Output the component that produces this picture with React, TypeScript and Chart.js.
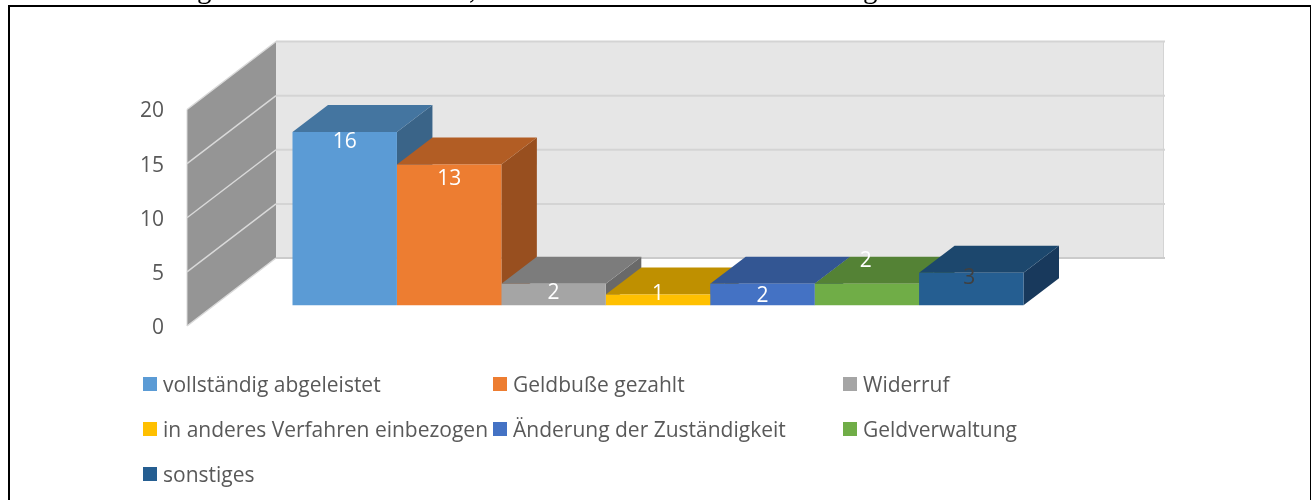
import React, { useEffect, useRef } from "react";
import { Chart, registerables } from "chart.js";

Chart.register(...registerables);

const categories = [""];
const seriesNames = [
  "vollständig abgeleistet",
  "Geldbuße gezahlt",
  "Widerruf",
  "in anderes Verfahren einbezogen",
  "Änderung der Zuständigkeit",
  "Geldverwaltung",
  "sonstiges",
];
const seriesValues = [16, 13, 2, 1, 2, 2, 3];
const frontColors = ["#5B9BD5", "#ED7D31", "#A5A5A5", "#FFC000", "#4472C4", "#70AD47", "#255E91"];
const topColors = ["#4475A0", "#B25D24", "#7C7C7C", "#BF9000", "#335693", "#548235", "#1C476D"];
const sideColors = ["#3A6488", "#984F1F", "#696969", "#A37B00", "#2C4A7D", "#47702D", "#18395C"];
const labelColors = ["#FFFFFF", "#FFFFFF", "#FFFFFF", "#FFFFFF", "#FFFFFF", "#FFFFFF", "#404040"];
const labelOffsets = [
  [0, 10],
  [0, 14],
  [0, 9],
  [0, 0],
  [0, 12],
  [-1, -23],
  [-2, 5],
];
const clippedHeadingGlyphs = ["g", ",", "g"];
const clippedHeadingX = [197, 469, 863];

const FONT = '"Open Sans", sans-serif';
const WALL_DX = 89;
const WALL_DY = -68;
const BAR_SHIFT_X = 27;
const BAR_SHIFT_Y = -20.7;
const BAR_DX = 35.5;
const BAR_DY = -27;
const TICK_TEXT_NUDGE = 2;

const poly = (ctx: CanvasRenderingContext2D, pts: number[][], fill: string) => {
  ctx.beginPath();
  pts.forEach(([x, y], i) => (i ? ctx.lineTo(x, y) : ctx.moveTo(x, y)));
  ctx.closePath();
  ctx.fillStyle = fill;
  ctx.fill();
};

const wallsPlugin = {
  id: "walls",
  beforeDraw(chart: any) {
    const y = chart.scales.y;
    if (!y._nudged) {
      const original = y.drawLabels.bind(y);
      y.drawLabels = (area: any) => {
        chart.ctx.save();
        chart.ctx.translate(0, TICK_TEXT_NUDGE);
        original(area);
        chart.ctx.restore();
      };
      y._nudged = true;
    }
  },
  beforeDatasetsDraw(chart: any) {
    const { ctx, chartArea: a, scales } = chart;
    const y = scales.y;
    const top = y.getPixelForValue(20);
    const bottom = y.getPixelForValue(0);
    ctx.save();
    // back wall
    ctx.fillStyle = "#E6E6E6";
    ctx.fillRect(a.left + WALL_DX, top + WALL_DY, a.right - a.left, bottom - top);
    ctx.fillStyle = "#D4D4D4";
    ctx.fillRect(a.right + WALL_DX - 1, top + WALL_DY, 1, bottom - top);
    // side wall
    poly(
      ctx,
      [
        [a.left, top],
        [a.left + WALL_DX, top + WALL_DY],
        [a.left + WALL_DX, bottom + WALL_DY],
        [a.left, bottom],
      ],
      "#959595"
    );
    // gridlines from the value axis
    y.ticks.forEach((t: any) => {
      const py = y.getPixelForValue(t.value);
      ctx.lineWidth = 2;
      ctx.strokeStyle = t.value === 0 ? "#CBCBCB" : "#D4D4D4";
      ctx.beginPath();
      ctx.moveTo(a.left + WALL_DX, py + WALL_DY);
      ctx.lineTo(a.right + WALL_DX + 1, py + WALL_DY);
      ctx.stroke();
      ctx.lineWidth = 1.5;
      ctx.strokeStyle = "#D9D9D9";
      ctx.beginPath();
      ctx.moveTo(a.left, py);
      ctx.lineTo(a.left + WALL_DX, py + WALL_DY);
      ctx.stroke();
    });
    ctx.lineWidth = 1;
    ctx.strokeStyle = "#D9D9D9";
    ctx.beginPath();
    ctx.moveTo(a.left, top);
    ctx.lineTo(a.left, bottom);
    ctx.stroke();
    // bar depth faces, drawn left to right; fronts are drawn by Chart.js afterwards
    chart.data.datasets.forEach((_: any, i: number) => {
      const el = chart.getDatasetMeta(i).data[0];
      const half = el.width / 2;
      const l = el.x - half + BAR_SHIFT_X;
      const r = el.x + half + BAR_SHIFT_X;
      const t = el.y + BAR_SHIFT_Y;
      const b = el.base + BAR_SHIFT_Y;
      poly(ctx, [[r, t], [r + BAR_DX, t + BAR_DY], [r + BAR_DX, b + BAR_DY], [r, b]], sideColors[i]);
      poly(ctx, [[l, t], [l + BAR_DX, t + BAR_DY], [r + BAR_DX, t + BAR_DY], [r, t]], topColors[i]);
    });
    ctx.restore();
    ctx.save();
    ctx.translate(BAR_SHIFT_X, BAR_SHIFT_Y);
  },
  afterDatasetsDraw(chart: any) {
    const { ctx } = chart;
    ctx.restore();
    ctx.save();
    ctx.font = `21px ${FONT}`;
    ctx.textAlign = "center";
    ctx.textBaseline = "middle";
    chart.data.datasets.forEach((ds: any, i: number) => {
      const el = chart.getDatasetMeta(i).data[0];
      ctx.fillStyle = labelColors[i];
      ctx.fillText(
        String(ds.data[0]),
        el.x + BAR_SHIFT_X + labelOffsets[i][0],
        el.y + BAR_SHIFT_Y + labelOffsets[i][1]
      );
    });
    ctx.restore();
  },
  afterDraw(chart: any) {
    const { ctx } = chart;
    const colX = [143, 493, 843];
    const rowY = [377, 422, 467];
    ctx.save();
    ctx.font = `21px ${FONT}`;
    ctx.textAlign = "left";
    ctx.textBaseline = "middle";
    chart.data.datasets.forEach((ds: any, i: number) => {
      const x = colX[i % 3];
      const y = rowY[Math.floor(i / 3)];
      ctx.fillStyle = ds.backgroundColor;
      ctx.fillRect(x, y, 14, 14);
      ctx.fillStyle = "#595959";
      ctx.fillText(ds.label, x + 20, y + 9);
    });
    // descenders of the heading line that the crop cuts off
    ctx.font = '29px "Liberation Serif", serif';
    ctx.textBaseline = "alphabetic";
    ctx.fillStyle = "#000";
    clippedHeadingGlyphs.forEach((g, i) => ctx.fillText(g, clippedHeadingX[i], -2));
    ctx.restore();
  },
};

export default function App() {
  const ref = useRef<HTMLCanvasElement>(null);
  useEffect(() => {
    const chart = new Chart(ref.current as HTMLCanvasElement, {
      type: "bar",
      data: {
        labels: categories,
        datasets: seriesNames.map((label, i) => ({
          label,
          data: [seriesValues[i]],
          backgroundColor: frontColors[i],
          clip: false,
        })),
      },
      options: {
        responsive: false,
        animation: false,
        layout: { padding: { left: 0, right: 236, top: 109.5, bottom: 174 } },
        datasets: { bar: { categoryPercentage: 0.8232, barPercentage: 1 } },
        plugins: { legend: { display: false }, tooltip: { enabled: false } },
        scales: {
          x: { display: false },
          y: {
            min: 0,
            max: 20,
            grid: { display: false, drawTicks: false },
            border: { display: false },
            afterFit: (s: any) => {
              s.width = 187;
            },
            ticks: {
              stepSize: 5,
              padding: 23,
              color: "#595959",
              font: { family: FONT, size: 21 },
            },
          },
        },
      } as any,
      plugins: [wallsPlugin],
    });
    return () => chart.destroy();
  }, []);
  return (
    <div style={{ position: "fixed", left: 0, top: 0, width: 1311, height: 500, overflow: "hidden", background: "#fff" }}>
      <div
        style={{
          position: "absolute",
          left: 8,
          top: 5,
          width: 1300,
          height: 600,
          borderTop: "2px solid #000",
          borderLeft: "2px solid #000",
          borderRight: "1px solid #000",
        }}
      />
      <canvas ref={ref} width={1311} height={500} style={{ position: "absolute", left: 0, top: 0, display: "block" }} />
    </div>
  );
}
